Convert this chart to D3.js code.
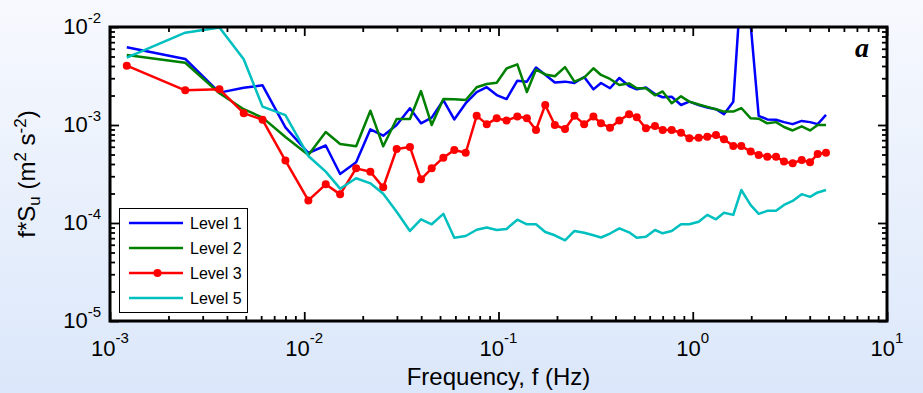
<!DOCTYPE html>
<html>
<head>
<meta charset="utf-8">
<script src="https://cdn.jsdelivr.net/npm/d3@7"></script>
<style>
  html, body { margin: 0; padding: 0; overflow: hidden; }
  svg { display: block; }
</style>
</head>
<body>
<svg id="chart" width="923" height="393"></svg>
<script>
// Frequency bins (Hz) shared by all levels
const freq = [0.00122, 0.00244, 0.00366, 0.00488, 0.0061, 0.0080, 0.0105, 0.0129, 0.0153, 0.0185,
  0.0219, 0.0255, 0.0299, 0.0350, 0.0399, 0.0453, 0.0520, 0.0592, 0.0678, 0.0772,
  0.0870, 0.0979, 0.110, 0.125, 0.140, 0.156, 0.174, 0.195, 0.220, 0.246,
  0.276, 0.308, 0.337, 0.375, 0.419, 0.470, 0.515, 0.574, 0.639, 0.700,
  0.779, 0.870, 0.960, 1.073, 1.188, 1.317, 1.448, 1.617, 1.778, 1.988,
  2.185, 2.420, 2.684, 2.950, 3.269, 3.638, 4.015, 4.397, 4.853];

// Pre-multiplied spectra f*Su (m^2 s^-2)
const level1 = [6.21e-3, 4.72e-3, 2.14e-3, 2.40e-3, 2.54e-3, 9.47e-4, 5.18e-4, 6.18e-4, 3.16e-4, 4.16e-4,
  9.04e-4, 7.78e-4, 1.00e-3, 1.48e-3, 1.04e-3, 1.19e-3, 1.79e-3, 1.14e-3, 1.67e-3, 2.17e-3,
  2.43e-3, 2.02e-3, 1.84e-3, 2.83e-3, 2.77e-3, 3.86e-3, 3.26e-3, 2.71e-3, 2.77e-3, 2.68e-3,
  3.09e-3, 2.31e-3, 2.68e-3, 2.37e-3, 3.02e-3, 2.50e-3, 2.31e-3, 2.41e-3, 2.07e-3, 1.92e-3,
  1.94e-3, 1.60e-3, 1.73e-3, 1.60e-3, 1.51e-3, 1.45e-3, 1.29e-3, 1.73e-3, 2.88e-2, 1.05e-2,
  1.24e-3, 1.14e-3, 1.13e-3, 1.07e-3, 1.02e-3, 1.10e-3, 1.07e-3, 1.02e-3, 1.27e-3];

const level2 = [5.18e-3, 4.32e-3, 2.11e-3, 1.45e-3, 1.19e-3, 7.54e-4, 4.94e-4, 8.48e-4, 6.40e-4, 6.06e-4,
  1.40e-3, 6.06e-4, 1.15e-3, 1.15e-3, 2.22e-3, 1.00e-3, 1.84e-3, 1.83e-3, 1.80e-3, 2.43e-3,
  2.62e-3, 2.70e-3, 3.77e-3, 4.16e-3, 2.17e-3, 3.68e-3, 3.28e-3, 3.14e-3, 3.89e-3, 2.77e-3,
  3.05e-3, 3.79e-3, 3.24e-3, 2.95e-3, 2.56e-3, 2.66e-3, 2.37e-3, 2.37e-3, 2.01e-3, 2.20e-3,
  1.67e-3, 1.96e-3, 1.73e-3, 1.62e-3, 1.53e-3, 1.45e-3, 1.37e-3, 1.37e-3, 1.49e-3, 1.17e-3,
  1.16e-3, 1.04e-3, 1.07e-3, 9.54e-4, 8.79e-4, 9.70e-4, 8.79e-4, 1.00e-3, 1.00e-3];

const level3 = [4.03e-3, 2.26e-3, 2.31e-3, 1.32e-3, 1.13e-3, 4.33e-4, 1.70e-4, 2.48e-4, 1.96e-4, 3.61e-4,
  3.34e-4, 2.31e-4, 5.69e-4, 5.97e-4, 2.79e-4, 3.61e-4, 4.64e-4, 5.56e-4, 5.21e-4, 1.24e-3,
  1.02e-3, 1.17e-3, 1.11e-3, 1.22e-3, 1.17e-3, 8.89e-4, 1.60e-3, 1.00e-3, 9.10e-4, 1.24e-3,
  1.02e-3, 1.22e-3, 1.04e-3, 9.38e-4, 1.11e-3, 1.29e-3, 1.20e-3, 9.24e-4, 9.77e-4, 8.89e-4,
  8.89e-4, 8.34e-4, 7.31e-4, 7.41e-4, 7.60e-4, 7.91e-4, 7.15e-4, 6.11e-4, 6.11e-4, 5.35e-4,
  4.95e-4, 4.75e-4, 4.75e-4, 4.23e-4, 4.07e-4, 4.40e-4, 4.16e-4, 5.06e-4, 5.21e-4];

const level5 = [4.86e-3, 8.75e-3, 9.90e-3, 4.68e-3, 1.54e-3, 1.26e-3, 4.83e-4, 3.34e-4, 2.24e-4, 2.86e-4,
  2.54e-4, 1.99e-4, 1.30e-4, 8.29e-5, 1.09e-4, 9.70e-5, 1.24e-4, 7.08e-5, 7.37e-5, 8.54e-5,
  9.00e-5, 8.48e-5, 8.69e-5, 1.08e-4, 9.70e-5, 9.70e-5, 8.10e-5, 7.49e-5, 6.66e-5, 8.29e-5,
  7.96e-5, 7.49e-5, 7.11e-5, 7.81e-5, 8.83e-5, 8.04e-5, 7.08e-5, 7.25e-5, 8.48e-5, 7.85e-5,
  8.29e-5, 9.70e-5, 9.72e-5, 1.03e-4, 1.21e-4, 1.09e-4, 1.27e-4, 1.21e-4, 2.17e-4, 1.52e-4,
  1.24e-4, 1.33e-4, 1.33e-4, 1.53e-4, 1.68e-4, 1.97e-4, 1.85e-4, 2.05e-4, 2.17e-4];

const seriesNames = ["Level 1", "Level 2", "Level 3", "Level 5"];
const seriesColors = ["#0000ff", "#008000", "#ff0000", "#00bfbf"];
const seriesMarkers = [false, false, true, false];

const xTickValues = [1e-3, 1e-2, 1e-1, 1e0, 1e1];
const xTickExp = ["-3", "-2", "-1", "0", "1"];
const yTickValues = [1e-5, 1e-4, 1e-3, 1e-2];
const yTickExp = ["-5", "-4", "-3", "-2"];

const xTitle = "Frequency, f (Hz)";
const panelLetter = "a";

// ---- layout ----
const W = 923, H = 393;
const box = { left: 110, right: 887, top: 27, bottom: 321 };
const FONT = "'Liberation Sans', Arial, Helvetica, sans-serif";

const svg = d3.select("#chart");
const defs = svg.append("defs");

const grad = defs.append("linearGradient")
  .attr("id", "bg").attr("x1", 0).attr("y1", 0).attr("x2", 0).attr("y2", 1);
grad.append("stop").attr("offset", "0%").attr("stop-color", "#f7f9fe");
grad.append("stop").attr("offset", "100%").attr("stop-color", "#dbe7fa");

svg.append("rect").attr("width", W).attr("height", H).attr("fill", "url(#bg)");

defs.append("clipPath").attr("id", "plotclip")
  .append("rect")
  .attr("x", box.left).attr("y", box.top)
  .attr("width", box.right - box.left).attr("height", box.bottom - box.top);

const x = d3.scaleLog().domain([1e-3, 1e1]).range([box.left, box.right]);
const y = d3.scaleLog().domain([1e-5, 1e-2]).range([box.bottom, box.top]);

// plot background
svg.append("rect")
  .attr("x", box.left).attr("y", box.top)
  .attr("width", box.right - box.left).attr("height", box.bottom - box.top)
  .attr("fill", "#ffffff");

// ---- series ----
const series = [level1, level2, level3, level5].map((vals, i) => ({
  name: seriesNames[i], color: seriesColors[i], marker: seriesMarkers[i],
  points: freq.map((f, j) => ({ f: f, v: vals[j] }))
}));

const line = d3.line().x(d => x(d.f)).y(d => y(d.v));
const plot = svg.append("g").attr("clip-path", "url(#plotclip)");

series.forEach(s => {
  plot.append("path")
    .datum(s.points)
    .attr("d", line)
    .attr("fill", "none")
    .attr("stroke", s.color)
    .attr("stroke-width", 2.5)
    .attr("stroke-linejoin", "round");
  if (s.marker) {
    plot.selectAll(null).data(s.points).enter().append("circle")
      .attr("cx", d => x(d.f)).attr("cy", d => y(d.v))
      .attr("r", 4).attr("fill", s.color);
  }
});

// ---- ticks (log minor + major, inward, on all four sides) ----
function minorTicks(lo, hi) {
  const out = [];
  for (let e = lo; e < hi; e++) for (let k = 2; k <= 9; k++) out.push(k * Math.pow(10, e));
  return out;
}
const xMinor = minorTicks(-3, 1);
const yMinor = minorTicks(-5, -2);

function tickAxis(gen, values, size, transform) {
  const g = svg.append("g").attr("transform", transform)
    .call(gen.tickValues(values).tickSizeInner(size).tickSizeOuter(0).tickFormat(""));
  g.select(".domain").remove();
  g.selectAll(".tick line").attr("stroke", "#000").attr("stroke-width", 1.8);
  return g;
}
const MAJ = 9, MIN = 5;
tickAxis(d3.axisBottom(x), xMinor, -MIN, `translate(0,${box.bottom})`);
tickAxis(d3.axisBottom(x), xTickValues, -MAJ, `translate(0,${box.bottom})`);
tickAxis(d3.axisTop(x), xMinor, -MIN, `translate(0,${box.top})`);
tickAxis(d3.axisTop(x), xTickValues, -MAJ, `translate(0,${box.top})`);
tickAxis(d3.axisLeft(y), yMinor, -MIN, `translate(${box.left},0)`);
tickAxis(d3.axisLeft(y), yTickValues, -MAJ, `translate(${box.left},0)`);
tickAxis(d3.axisRight(y), yMinor, -MIN, `translate(${box.right},0)`);
tickAxis(d3.axisRight(y), yTickValues, -MAJ, `translate(${box.right},0)`);

// frame
svg.append("rect")
  .attr("x", box.left).attr("y", box.top)
  .attr("width", box.right - box.left).attr("height", box.bottom - box.top)
  .attr("fill", "none").attr("stroke", "#000").attr("stroke-width", 3);

// ---- tick labels with superscript exponents ----
const xl = svg.append("g").attr("font-family", FONT).attr("fill", "#000");
xTickValues.forEach((v, i) => {
  const t = xl.append("text")
    .attr("x", x(v)).attr("y", 356)
    .attr("text-anchor", "middle").attr("font-size", 22);
  t.append("tspan").text("10");
  t.append("tspan").attr("dy", -13).attr("font-size", 15).text(xTickExp[i]);
});
const yl = svg.append("g").attr("font-family", FONT).attr("fill", "#000");
yTickValues.forEach((v, i) => {
  const t = yl.append("text")
    .attr("x", 101).attr("y", y(v) + 7)
    .attr("text-anchor", "end").attr("font-size", 22);
  t.append("tspan").text("10");
  t.append("tspan").attr("dy", -11).attr("font-size", 15).text(yTickExp[i]);
});

// ---- axis titles ----
svg.append("text")
  .attr("x", (box.left + box.right) / 2).attr("y", 385)
  .attr("text-anchor", "middle")
  .attr("font-family", FONT).attr("font-size", 24)
  .text(xTitle);

const yt = svg.append("text")
  .attr("transform", `translate(35,${(box.top + box.bottom) / 2}) rotate(-90)`)
  .attr("text-anchor", "middle")
  .attr("font-family", FONT).attr("font-size", 24);
yt.append("tspan").text("f*S");
yt.append("tspan").attr("dy", 5).attr("font-size", 17).text("u");
yt.append("tspan").attr("dy", -5).text(" (m");
yt.append("tspan").attr("dy", -9).attr("font-size", 17).text("2");
yt.append("tspan").attr("dy", 9).text(" s");
yt.append("tspan").attr("dy", -9).attr("font-size", 17).text("-2");
yt.append("tspan").attr("dy", 9).text(")");

// panel letter
svg.append("text")
  .attr("x", 862).attr("y", 57)
  .attr("text-anchor", "middle")
  .attr("font-family", "'Liberation Serif', 'Times New Roman', serif")
  .attr("font-style", "italic").attr("font-weight", "bold")
  .attr("font-size", 28)
  .text(panelLetter);

// ---- legend ----
const lg = svg.append("g").attr("font-family", FONT);
lg.append("rect")
  .attr("x", 119.5).attr("y", 208.5).attr("width", 128).attr("height", 104)
  .attr("fill", "#fff").attr("stroke", "#000").attr("stroke-width", 1);
series.forEach((s, i) => {
  const yy = 223 + i * 25;
  lg.append("line")
    .attr("x1", 129).attr("x2", 183).attr("y1", yy).attr("y2", yy)
    .attr("stroke", s.color).attr("stroke-width", 2.5);
  if (s.marker) {
    lg.append("circle").attr("cx", 157.5).attr("cy", yy).attr("r", 4).attr("fill", s.color);
  }
  lg.append("text")
    .attr("x", 190).attr("y", yy + 6)
    .attr("font-size", 16).attr("fill", "#000")
    .text(s.name);
});
</script>
</body>
</html>
